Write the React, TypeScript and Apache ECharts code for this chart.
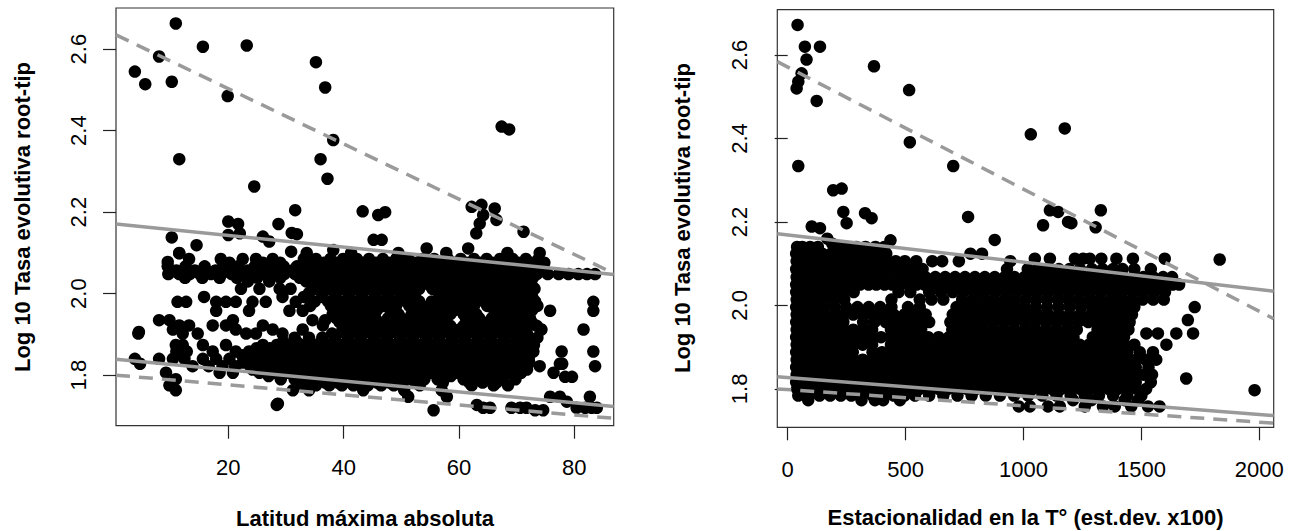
import React, { useEffect, useRef } from "react";
import * as echarts from "echarts";

// ---------- axis ranges (R style, 4% padding) ----------
const L_X_MIN = 0.53, L_X_MAX = 86.83, L_Y_MIN = 1.676, L_Y_MAX = 2.701;
const R_X_MIN = -44, R_X_MAX = 2061, R_Y_MIN = 1.708, R_Y_MAX = 2.7085;

const leftXTicks = [20, 40, 60, 80];
const rightXTicks = [0, 500, 1000, 1500, 2000];
const yTicks = [1.8, 2.0, 2.2, 2.4, 2.6];

const leftXTitle = "Latitud máxima absoluta";
const rightXTitle = "Estacionalidad en la T° (est.dev. x100)";
const yTitle = "Log 10 Tasa evolutiva root-tip";

// ---------- regression lines (intercept, slope) ----------
const leftLineIntercept = [2.6386, 2.1718, 1.8397, 1.8007];
const leftLineSlope = [-0.006779, -0.001437, -0.001344, -0.001228];
const rightLineIntercept = [2.5711, 2.1691, 1.8271, 1.7983];
const rightLineSlope = [-0.0002926, -0.00006556, -0.0000442, -0.000039];
const lineDashed = [true, false, false, true];

// ---------- left panel points ----------
const leftOutliers: number[][] = [
  [10.9, 2.663], [3.8, 2.545], [5.6, 2.514], [8.0, 2.582], [10.2, 2.52], [15.6, 2.606], [23.2, 2.609],
  [19.9, 2.485], [11.5, 2.33], [24.5, 2.263], [35.2, 2.568], [36.8, 2.506], [36.0, 2.33], [37.2, 2.282],
  [38.2, 2.377], [67.4, 2.41], [68.7, 2.403], [31.6, 2.205], [43.3, 2.202], [46.0, 2.193], [47.2, 2.2],
  [62.2, 2.213], [63.9, 2.218], [66.2, 2.209], [64.2, 2.193], [66.5, 2.181], [63.6, 2.172], [63.0, 2.148],
  [71.2, 2.152], [10.2, 2.138], [14.5, 2.119], [20.0, 2.177], [21.7, 2.171], [22.0, 2.148], [20.0, 2.144],
  [28.7, 2.171], [31.0, 2.149], [31.9, 2.146], [26.0, 2.14], [27.1, 2.128], [45.2, 2.132], [46.6, 2.132],
  [30.9, 2.103], [38.2, 2.107], [54.4, 2.111], [61.6, 2.111], [9.5, 2.078], [11.5, 2.099], [4.5, 1.906],
  [28.6, 1.73],
];

const leftRowY = [
  2.1, 2.085, 2.067, 2.048, 2.03, 2.012, 1.992, 1.98, 1.97, 1.958, 1.95, 1.935, 1.93, 1.922, 1.912, 1.902,
  1.892, 1.874, 1.858, 1.84, 1.828, 1.822, 1.806, 1.796, 1.79, 1.775, 1.763, 1.747, 1.735, 1.727, 1.72, 1.714,
  2.076, 2.057, 2.039, 2.021, 2.002, 1.981, 1.96, 1.94, 1.921, 1.902, 1.883, 1.866, 1.849, 1.831, 1.814,
  1.798, 1.782,
];
const leftRowX: number[][] = [
  [11.5, 33.6, 41.3, 49.5, 57.8, 68.4, 74.0],
  [13.2, 18.7, 22.5, 24.8, 27.7, 33.1, 35.2, 37.7, 39.9, 42.3, 44.4, 46.8, 49.1, 51.2, 53.6, 55.7, 58.1, 60.3, 62.6, 64.8, 67.1, 69.3, 71.6, 73.8],
  [9.5, 12.6, 15.9, 19.1, 21.7, 24.6, 27.3, 29.6, 31.9, 34.2, 36.4, 38.7, 40.9, 43.2, 45.4, 47.7, 49.9, 52.2, 54.4, 56.7, 58.9, 61.2, 63.4, 65.7, 67.9, 70.2, 72.3, 74.6],
  [9.6, 11.5, 13.3, 15.1, 17.0, 18.8, 20.6, 22.4, 24.3, 26.1, 27.9, 29.7, 31.6, 33.4, 35.2, 37.0, 38.9, 40.7, 42.5, 44.3, 46.2, 48.0, 49.8, 51.6, 53.5, 55.3, 57.1, 58.9, 60.8, 62.6, 64.4, 66.2, 68.1, 69.9, 71.7, 73.5, 75.4, 77.3, 79.0, 80.7, 82.2, 83.6],
  [23.4, 27.1, 33.5, 35.9, 38.1, 40.4, 42.6, 44.9, 47.1, 49.3, 51.6, 53.8, 56.1, 58.3, 60.6, 62.8, 65.1, 67.3, 69.5, 71.8],
  [22.2, 25.4, 28.9, 30.8, 35.2, 37.5, 39.6, 41.9, 44.1, 46.4, 48.6, 50.9, 53.1, 55.4, 57.6, 59.9, 62.1, 64.4, 66.6, 68.9, 71.1, 73.1],
  [15.8, 29.4, 33.1, 36.3, 38.6, 40.9, 43.2, 45.5, 47.8, 50.1, 52.4, 57.0, 59.3, 61.5, 63.8, 66.1, 68.3, 70.6, 72.7],
  [11.2, 12.7, 17.9, 19.6, 21.3, 24.2, 26.5, 31.7, 83.3],
  [34.2, 37.8, 40.1, 42.4, 44.6, 46.9, 49.1, 51.4, 53.6, 55.9, 58.1, 60.4, 62.6, 64.9, 67.1, 69.4, 71.6, 73.6],
  [17.9, 23.6, 30.6, 32.9, 75.8, 83.3],
  [38.1, 40.4, 42.7, 45.0, 49.5, 51.8, 54.0, 56.3, 58.5, 60.8, 63.0, 67.5, 69.8, 72.0],
  [8.0, 9.8, 20.8, 34.6, 36.8],
  [39.3, 41.6, 43.9, 46.1, 48.4, 50.6, 52.9, 55.1, 57.4, 61.9, 64.1, 66.4, 68.6, 70.9, 72.6],
  [11.5, 13.2, 17.3, 19.6, 26.0, 36.4],
  [10.4, 21.3, 27.7, 32.9, 39.8, 42.1, 44.4, 46.6, 48.9, 51.1, 53.4, 55.6, 57.9, 60.1, 62.4, 64.6, 66.9, 69.1, 71.4, 74.3, 81.6],
  [4.4, 12.1, 14.7, 23.1, 24.8, 29.4, 43.3],
  [31.5, 34.0, 36.3, 38.5, 40.8, 43.0, 45.3, 47.5, 49.8, 52.0, 54.3, 56.5, 58.8, 61.0, 63.3, 65.5, 67.8, 70.0, 72.0, 73.6],
  [10.9, 12.1, 15.6, 19.6, 26.0, 28.4, 30.6, 32.9, 35.1, 37.4, 39.6, 41.9, 44.1, 46.4, 48.6, 50.9, 53.1, 55.4, 57.6, 59.9, 62.1, 64.4, 66.6, 68.9, 71.1, 73.0],
  [11.0, 12.8, 17.3, 21.3, 23.6, 25.8, 27.9, 30.1, 32.4, 34.6, 36.9, 39.1, 41.4, 43.6, 45.9, 48.1, 50.4, 52.6, 54.9, 57.1, 59.4, 61.6, 63.9, 66.1, 68.4, 70.6, 72.9, 77.8, 83.3],
  [3.8, 8.0, 10.4, 12.4, 15.6, 17.9, 20.2, 23.6, 25.5, 27.7, 30.0, 32.2, 34.5, 36.7, 39.0, 41.2, 43.5, 45.7, 48.0, 50.2, 52.5, 54.7, 57.0, 59.2, 61.5, 63.7, 66.0, 68.2, 70.5, 72.1],
  [4.7, 77.5, 77.9],
  [13.8, 16.6, 19.0, 21.2, 23.8, 26.3, 28.5, 30.8, 33.0, 35.3, 37.5, 39.8, 42.0, 44.3, 46.5, 48.8, 51.0, 53.3, 55.5, 57.8, 60.0, 62.3, 64.5, 66.8, 69.0, 71.3, 74.0, 83.6],
  [9.2, 18.5, 20.8, 25.4, 28.0, 30.3, 32.6, 34.8, 37.1, 39.3, 41.6, 43.8, 46.1, 48.3, 50.6, 52.8, 55.1, 57.3, 59.6, 61.8, 64.1, 66.3, 68.6, 70.8, 76.4],
  [78.4, 79.6],
  [10.9, 29.1, 31.5, 33.8, 36.0, 38.3, 40.5, 42.8, 45.0, 47.3, 49.5, 51.8, 54.0, 56.3, 60.8, 63.0, 65.3, 67.5, 69.8],
  [9.8, 33.0, 35.2, 37.5, 39.7, 41.7, 44.2, 46.5, 48.7, 53.2, 62.2, 66.0, 68.5],
  [10.9, 31.2, 34.0, 43.4, 50.5, 57.0],
  [51.2, 57.9, 75.8, 77.5, 82.7],
  [78.7],
  [28.4, 63.1],
  [64.2, 65.4, 69.1, 70.6, 71.7, 80.4, 81.9, 83.0, 83.9],
  [55.6, 73.2, 74.6],
  // in-between rows of the dense core
  [20.2, 26.0, 29.0, 34.3, 36.6, 38.8, 41.1, 43.3, 45.6, 47.8, 50.1, 52.3, 54.6, 56.8, 59.1, 61.3, 63.6, 65.8, 68.1, 70.3, 72.6, 74.8],
  [11.0, 14.2, 17.8, 20.9, 23.4, 26.2, 28.8, 31.1, 33.3, 35.6, 37.8, 40.1, 42.3, 44.6, 46.8, 49.1, 51.3, 53.6, 55.8, 58.1, 60.3, 62.6, 64.8, 67.1, 69.3, 71.6, 73.5],
  [12.5, 15.5, 18.5, 21.5, 25.0, 29.0, 32.4, 34.7, 37.0, 39.2, 41.5, 43.7, 46.0, 48.2, 50.5, 52.7, 55.0, 57.2, 59.5, 61.7, 64.0, 66.2, 68.5, 70.7, 72.8],
  [34.6, 36.9, 39.1, 41.4, 43.6, 45.9, 48.1, 50.4, 52.6, 54.9, 57.1, 59.4, 61.6, 63.9, 66.1, 68.4, 70.6, 72.6],
  [34.0, 36.3, 38.5, 40.8, 43.0, 45.3, 47.5, 49.8, 52.0, 56.5, 58.7, 61.0, 63.2, 65.5, 67.7, 70.0, 72.0],
  [35.0, 37.3, 39.6, 41.8, 44.1, 46.3, 48.6, 50.8, 53.1, 55.3, 57.6, 59.8, 62.1, 64.3, 66.6, 68.8, 71.1, 73.2],
  [39.0, 41.3, 43.6, 45.8, 48.1, 52.6, 54.8, 57.1, 59.3, 61.6, 66.1, 68.3, 70.6, 72.7],
  [38.7, 41.0, 43.2, 45.5, 47.7, 50.0, 52.2, 54.5, 56.7, 61.2, 63.5, 65.7, 68.0, 70.2, 72.3],
  [40.5, 42.8, 45.0, 47.3, 49.5, 51.8, 54.0, 56.3, 58.5, 60.8, 63.0, 65.3, 67.5, 69.8, 72.0, 73.5],
  [38.0, 40.3, 42.5, 44.8, 47.0, 49.3, 51.5, 53.8, 56.0, 58.3, 60.5, 62.8, 65.0, 67.3, 69.5, 71.8],
  [29.5, 31.8, 34.1, 36.3, 38.6, 40.8, 43.1, 45.3, 47.6, 49.8, 52.1, 54.3, 56.6, 58.8, 61.1, 63.3, 65.6, 67.8, 70.1, 72.2],
  [24.9, 27.2, 29.4, 31.7, 33.9, 36.2, 38.4, 40.7, 42.9, 45.2, 47.4, 49.7, 51.9, 54.2, 56.4, 58.7, 60.9, 63.2, 65.4, 67.7, 69.9, 72.1],
  [22.4, 24.6, 26.8, 29.0, 31.3, 33.5, 35.8, 38.0, 40.3, 42.5, 44.8, 47.0, 49.3, 51.5, 53.8, 56.0, 58.3, 60.5, 62.8, 65.0, 67.3, 69.5, 71.5],
  [22.5, 24.8, 27.1, 29.3, 31.6, 33.8, 36.1, 38.3, 40.6, 42.8, 45.1, 47.3, 49.6, 51.8, 54.1, 56.3, 58.6, 60.8, 63.1, 65.3, 67.6, 69.8, 72.2],
  [24.2, 26.9, 29.2, 31.4, 33.7, 35.9, 38.2, 40.4, 42.7, 44.9, 47.2, 49.4, 51.7, 53.9, 56.2, 58.4, 60.7, 62.9, 65.2, 67.4, 69.7, 71.8],
  [27.0, 29.3, 31.6, 33.9, 36.1, 38.4, 40.6, 42.9, 45.1, 47.4, 49.6, 51.9, 54.1, 56.4, 58.6, 60.9, 63.1, 65.4, 67.6, 69.8],
  [32.2, 34.5, 36.8, 39.0, 41.3, 43.5, 45.8, 48.0, 50.3, 52.5, 57.2, 61.8, 64.1, 66.5],
];

// ---------- right panel points ----------
const rightOutliers: number[][] = [
  [42, 2.672], [73, 2.62], [80, 2.589], [137, 2.62], [59, 2.556], [38, 2.52], [45, 2.536], [123, 2.49],
  [366, 2.573], [515, 2.516], [518, 2.391], [45, 2.334], [702, 2.334], [193, 2.276], [229, 2.28],
  [236, 2.224], [250, 2.197], [328, 2.221], [356, 2.209], [765, 2.212], [102, 2.189], [137, 2.185],
  [1031, 2.41], [1175, 2.424], [1112, 2.228], [1147, 2.224], [1083, 2.192], [1189, 2.2], [1203, 2.197],
  [1328, 2.228], [1306, 2.187], [878, 2.157], [1832, 2.11], [436, 2.156], [168, 2.16], [189, 2.148],
  [1726, 1.996], [1697, 1.965], [1719, 1.933], [1690, 1.825], [1980, 1.797],
];

const rightRowY = [
  2.14, 2.124, 2.106, 2.112, 2.087, 2.068, 2.05, 2.032, 2.014, 1.996, 1.978, 1.96, 1.942, 1.933, 1.924,
  1.906, 1.888, 1.87, 1.852, 1.834, 1.816, 1.8, 1.784, 1.773, 1.758,
];
const rightRowX: number[][] = [
  [40, 62, 95, 128, 210, 252, 290, 330, 372, 410],
  [36, 70, 108, 146, 184, 222, 262, 300, 340, 378, 418, 775, 824],
  [38, 76, 114, 152, 190, 228, 266, 304, 342, 380, 420, 458, 497, 545, 613, 655, 726, 944],
  [1048, 1112, 1218, 1253, 1281, 1330, 1394, 1464, 1599],
  [36, 74, 112, 150, 188, 226, 264, 302, 340, 378, 416, 454, 492, 530, 572, 930, 1018, 1060, 1100, 1150, 1195, 1240, 1290, 1335, 1380, 1420, 1470, 1540],
  [38, 80, 122, 164, 206, 248, 290, 332, 374, 416, 458, 500, 542, 584, 626, 668, 710, 752, 794, 836, 878, 920, 962, 1004, 1046, 1088, 1130, 1172, 1214, 1256, 1298, 1340, 1382, 1424, 1466, 1508, 1550, 1592, 1630],
  [36, 71, 103, 139, 171, 207, 240, 275, 307, 343, 376, 411, 443, 479, 512, 547, 580, 615, 647, 683, 716, 751, 784, 819, 851, 887, 920, 955, 987, 1023, 1056, 1091, 1123, 1159, 1192, 1227, 1259, 1295, 1328, 1363, 1395, 1431, 1464, 1499, 1531, 1567, 1600, 1633, 1660],
  [36, 76, 116, 156, 196, 236, 280, 470, 520, 600, 650, 700, 745, 790, 835, 880, 925, 970, 1015, 1060, 1105, 1150, 1195, 1240, 1285, 1330, 1375, 1420, 1465, 1510, 1555, 1600],
  [38, 78, 118, 158, 198, 240, 440, 560, 610, 660, 740, 785, 830, 875, 920, 965, 1010, 1055, 1100, 1145, 1190, 1235, 1280, 1325, 1370, 1415, 1460, 1505, 1550, 1595],
  [36, 76, 116, 156, 200, 248, 296, 344, 392, 440, 510, 560, 716, 764, 812, 860, 908, 956, 1004, 1052, 1100, 1148, 1196, 1244, 1292, 1340, 1388, 1436, 1470],
  [38, 78, 118, 158, 198, 238, 278, 318, 360, 405, 450, 495, 540, 585, 700, 745, 790, 835, 880, 925, 970, 1015, 1060, 1105, 1150, 1195, 1240, 1285, 1330, 1375, 1420, 1460],
  [36, 76, 116, 156, 196, 236, 320, 368, 416, 464, 510, 555, 600, 690, 735, 780, 825, 870, 915, 960, 1005, 1050, 1095, 1140, 1185, 1230, 1275, 1320, 1365, 1410, 1450],
  [38, 78, 118, 158, 198, 238, 278, 318, 358, 438, 478, 522, 566, 698, 742, 786, 830, 874, 918, 962, 1006, 1050, 1094, 1138, 1182, 1226, 1314, 1358, 1400, 1445],
  [1521, 1570, 1648],
  [36, 76, 116, 156, 196, 236, 276, 316, 356, 396, 436, 476, 516, 556, 596, 640, 684, 728, 772, 816, 860, 904, 948, 992, 1036, 1080, 1124, 1168, 1212, 1294, 1338, 1382, 1426],
  [38, 78, 118, 158, 198, 238, 278, 318, 358, 438, 478, 518, 558, 598, 638, 678, 718, 758, 798, 838, 878, 918, 958, 998, 1038, 1078, 1118, 1158, 1198, 1238, 1278, 1318, 1358, 1398, 1429, 1470, 1606],
  [36, 76, 116, 156, 196, 236, 276, 360, 400, 440, 480, 520, 560, 600, 640, 680, 720, 760, 800, 840, 880, 920, 960, 1000, 1040, 1080, 1120, 1160, 1200, 1240, 1280, 1320, 1360, 1400, 1440, 1493, 1549],
  [38, 78, 118, 158, 198, 238, 278, 318, 358, 398, 438, 478, 518, 558, 598, 638, 678, 718, 758, 798, 838, 878, 918, 958, 998, 1038, 1078, 1118, 1158, 1198, 1238, 1278, 1318, 1358, 1398, 1438, 1478, 1518, 1563],
  [36, 76, 116, 156, 196, 236, 276, 316, 356, 396, 436, 476, 516, 556, 596, 636, 676, 716, 756, 796, 836, 876, 916, 956, 996, 1036, 1076, 1116, 1156, 1196, 1236, 1276, 1316, 1356, 1396, 1436, 1476, 1530],
  [38, 78, 118, 158, 198, 238, 278, 318, 358, 398, 438, 478, 518, 558, 598, 638, 678, 718, 758, 798, 838, 878, 918, 958, 998, 1038, 1078, 1118, 1158, 1198, 1238, 1278, 1318, 1358, 1398, 1438, 1478, 1510, 1545],
  [36, 76, 116, 156, 196, 236, 276, 316, 356, 396, 436, 476, 516, 556, 596, 636, 676, 716, 756, 796, 836, 876, 916, 956, 996, 1036, 1076, 1116, 1156, 1196, 1236, 1276, 1316, 1356, 1396, 1436, 1476, 1540],
  [40, 80, 120, 160, 200, 240, 280, 320, 360, 400, 440, 480, 520, 560, 600, 640, 680, 720, 760, 800, 840, 880, 920, 960, 1000, 1040, 1080, 1120, 1160, 1200, 1240, 1280, 1320, 1360, 1400, 1440, 1480, 1520],
  [45, 90, 135, 180, 225, 270, 315, 360, 405, 450, 495, 540, 600, 660, 720, 780, 840, 900, 960, 1020, 1080, 1140, 1200, 1260, 1320, 1380, 1440, 1500],
  [87, 313, 370, 405, 476, 1210, 1288, 1429, 1486],
  [980, 1027, 1104, 1154, 1260, 1337, 1387, 1457, 1528, 1577],
];

const FONT = "'Liberation Sans', Arial, Helvetica, sans-serif";
const LINE_COLOR = "#9a9a9a";

function rowsToPoints(rowY: number[], rowX: number[][], extra: number[][]) {
  const pts: number[][] = extra.map((p) => [p[0], p[1]]);
  rowX.forEach((xs, i) => xs.forEach((x) => pts.push([x, rowY[i]])));
  return pts;
}

function lineSeries(intercepts: number[], slopes: number[], xMin: number, xMax: number, idx: number) {
  return intercepts.map((a, i) => ({
    type: "line",
    xAxisIndex: idx,
    yAxisIndex: idx,
    data: [
      [xMin, a + slopes[i] * xMin],
      [xMax, a + slopes[i] * xMax],
    ],
    symbol: "none",
    silent: true,
    z: 5,
    lineStyle: {
      color: LINE_COLOR,
      width: 3.5,
      type: lineDashed[i] ? [14, 9] : "solid",
      cap: "butt",
    },
  }));
}

function xAxisCfg(idx: number, min: number, max: number, ticks: number[]) {
  return {
    gridIndex: idx,
    type: "value",
    min,
    max,
    splitLine: { show: false },
    axisLine: { show: false },
    axisTick: { show: true, inside: false, length: 13, customValues: ticks, lineStyle: { color: "#222", width: 1.2 } },
    axisLabel: {
      customValues: ticks,
      fontSize: 22,
      color: "#000",
      fontFamily: FONT,
      margin: 31,
      formatter: (v: number) => String(v),
    },
  };
}

function yAxisCfg(idx: number, min: number, max: number) {
  return {
    gridIndex: idx,
    type: "value",
    min,
    max,
    splitLine: { show: false },
    axisLine: { show: false },
    axisTick: { show: true, inside: false, length: 13, customValues: yTicks, lineStyle: { color: "#222", width: 1.2 } },
    axisLabel: {
      customValues: yTicks,
      rotate: 90,
      fontSize: 22,
      color: "#000",
      fontFamily: FONT,
      margin: 27,
      formatter: (v: number) => v.toFixed(1),
    },
  };
}

export default function App() {
  const ref = useRef<HTMLDivElement>(null);
  useEffect(() => {
    if (!ref.current) return;
    const chart = echarts.init(ref.current, undefined, { renderer: "svg" });
    const leftPts = rowsToPoints(leftRowY, leftRowX, leftOutliers);
    const rightPts = rowsToPoints(rightRowY, rightRowX, rightOutliers);
    const titleFont = `bold 22px ${FONT}`;
    chart.setOption({
      animation: false,
      backgroundColor: "#fff",
      grid: [
        { left: 116, top: 8, width: 497.7, height: 417.7, show: true, borderColor: "#333", borderWidth: 1.2, backgroundColor: "transparent" },
        { left: 777.3, top: 9.7, width: 496.4, height: 417.6, show: true, borderColor: "#333", borderWidth: 1.2, backgroundColor: "transparent" },
      ],
      xAxis: [xAxisCfg(0, L_X_MIN, L_X_MAX, leftXTicks), xAxisCfg(1, R_X_MIN, R_X_MAX, rightXTicks)],
      yAxis: [yAxisCfg(0, L_Y_MIN, L_Y_MAX), yAxisCfg(1, R_Y_MIN, R_Y_MAX)],
      series: [
        {
          type: "scatter",
          xAxisIndex: 0,
          yAxisIndex: 0,
          data: leftPts,
          symbol: "circle",
          symbolSize: 12.5,
          itemStyle: { color: "#000", opacity: 1 },
          silent: true,
          z: 2,
        },
        {
          type: "scatter",
          xAxisIndex: 1,
          yAxisIndex: 1,
          data: rightPts,
          symbol: "circle",
          symbolSize: 12.5,
          itemStyle: { color: "#000", opacity: 1 },
          silent: true,
          z: 2,
        },
        ...lineSeries(leftLineIntercept, leftLineSlope, L_X_MIN, L_X_MAX, 0),
        ...lineSeries(rightLineIntercept, rightLineSlope, R_X_MIN, R_X_MAX, 1),
      ],
      graphic: [
        { type: "text", x: 365, y: 518, style: { text: leftXTitle, font: titleFont, fill: "#000", align: "center", verticalAlign: "middle" } },
        { type: "text", x: 1025.5, y: 517, style: { text: rightXTitle, font: titleFont, fill: "#000", align: "center", verticalAlign: "middle" } },
        { type: "text", x: 22, y: 217, rotation: Math.PI / 2, style: { text: yTitle, font: titleFont, fill: "#000", align: "center", verticalAlign: "middle" } },
        { type: "text", x: 682, y: 218, rotation: Math.PI / 2, style: { text: yTitle, font: titleFont, fill: "#000", align: "center", verticalAlign: "middle" } },
      ],
    });
    return () => chart.dispose();
  }, []);
  return (
    <div
      ref={ref}
      style={{ position: "fixed", left: 0, top: 0, width: 1294, height: 531, background: "#fff" }}
    />
  );
}
